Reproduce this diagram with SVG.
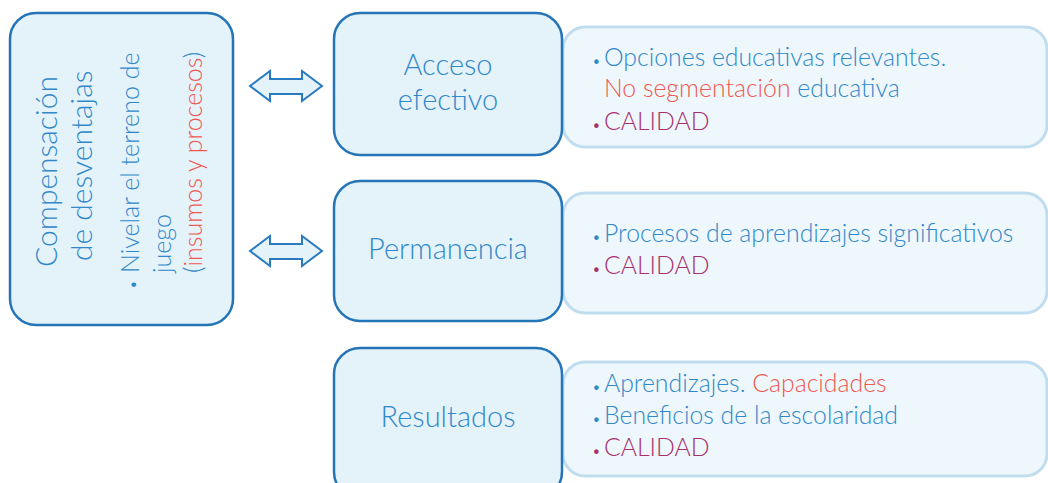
<svg xmlns="http://www.w3.org/2000/svg" width="1048" height="483" viewBox="0 0 1048 483">
<style>
.main{fill:#e4f2fa;stroke:#2474b8;stroke-width:2.5}
.det{fill:#eef7fb;stroke:#c0ddf0;stroke-width:3}
.arr{fill:#e4f2fa;stroke:#2a7abf;stroke-width:2;stroke-linejoin:miter}
text{font-family:Lato,"Open Sans","Liberation Sans",sans-serif;font-weight:300;fill:#3188c9}
.h{font-size:29px;text-anchor:middle}
.t{font-size:24.8px}
.v{font-size:25px}
.b{font-size:15px}
.red{fill:#f05750}
.mag{fill:#a8306e}
</style>
<rect width="1048" height="483" fill="#ffffff"/>
<g id="connectors">
<path class="arr" d="M250,86 L270,71 L270,79 L302,79 L302,71 L322,86 L302,101 L302,94 L270,94 L270,101 Z"/>
<path class="arr" d="M250,251 L270,236 L270,244 L302,244 L302,236 L322,251 L302,266 L302,259 L270,259 L270,266 Z"/>
</g>
<g id="compensacion">
<rect class="main" x="10" y="13" width="223" height="312" rx="26"/>
<text transform="translate(57,267) rotate(-90)" style="font-size:30px">Compensación</text>
<text transform="translate(92,261) rotate(-90)" style="font-size:30px">de desventajas</text>
<text class="b" transform="translate(138,289) rotate(-90)">•</text>
<text class="v" transform="translate(139,273) rotate(-90)">Nivelar el terreno de</text>
<text class="v" transform="translate(171,273) rotate(-90)">juego</text>
<text class="v" transform="translate(202,273) rotate(-90)">(<tspan class="red">insumos y procesos</tspan>)</text>
</g>
<g id="acceso">
<rect class="det" x="563" y="27" width="484" height="120" rx="22"/>
<rect class="main" x="334" y="13" width="228" height="142" rx="26"/>
<text class="h" x="448" y="75">Acceso</text>
<text class="h" x="448" y="110">efectivo</text>
<text class="b" x="592" y="66">•</text>
<text class="t" x="604" y="66">Opciones educativas relevantes.</text>
<text class="t" x="604" y="97"><tspan class="red">No segmentación</tspan> educativa</text>
<text class="b mag" x="592" y="130">•</text>
<text class="t mag" x="604" y="130">CALIDAD</text>
</g>
<g id="permanencia">
<rect class="det" x="563" y="193" width="484" height="120" rx="22"/>
<rect class="main" x="334" y="181" width="228" height="140" rx="26"/>
<text class="h" x="448" y="259">Permanencia</text>
<text class="b" x="592" y="242">•</text>
<text class="t" x="604" y="242">Procesos de aprendizajes significativos</text>
<text class="b mag" x="592" y="274">•</text>
<text class="t mag" x="604" y="274">CALIDAD</text>
</g>
<g id="resultados">
<rect class="det" x="563" y="362" width="484" height="114" rx="22"/>
<rect class="main" x="334" y="348" width="228" height="150" rx="26"/>
<text class="h" x="448" y="427">Resultados</text>
<text class="b" x="592" y="392">•</text>
<text class="t" x="604" y="392">Aprendizajes. <tspan class="red">Capacidades</tspan></text>
<text class="b" x="592" y="424">•</text>
<text class="t" x="604" y="424">Beneficios de la escolaridad</text>
<text class="b mag" x="592" y="456">•</text>
<text class="t mag" x="604" y="456">CALIDAD</text>
</g>
</svg>
